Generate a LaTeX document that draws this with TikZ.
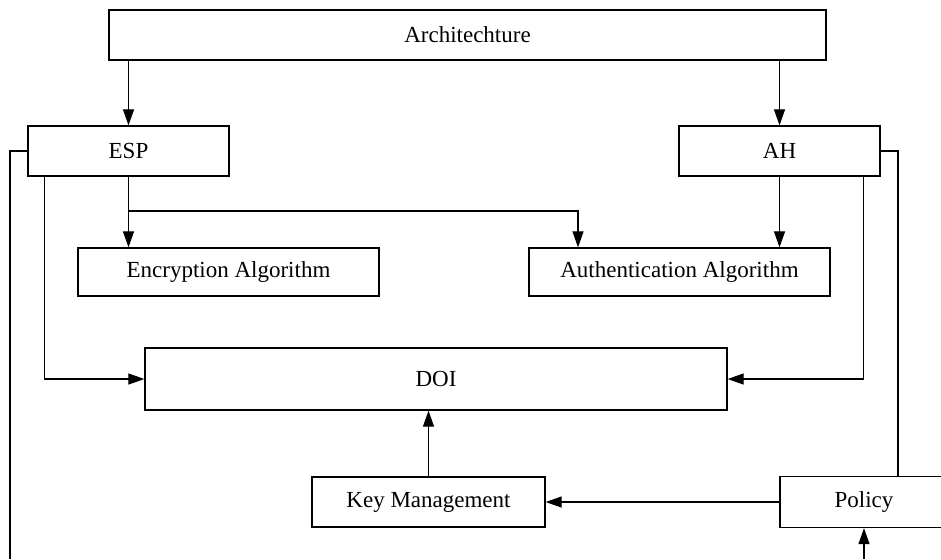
\documentclass[tikz,border=0pt]{standalone}
\usepackage{fontspec}
\setmainfont{Liberation Serif}
\usetikzlibrary{arrows.meta,positioning,calc}

\begin{document}
\begin{tikzpicture}[
    x=0.5pt, y=-0.5pt,
    >={Triangle[length=8pt,width=5.5pt]},
    box/.style={rectangle, draw, line width=0.65pt, inner sep=0pt,
                align=center, font=\fontsize{11.5}{13}\selectfont},
    arr/.style={->, line width=0.6pt},
    wire/.style={line width=0.6pt}
  ]
  \useasboundingbox (0,0) rectangle (941,559);

  % top level
  \node[box, minimum width=358.5pt, minimum height=25pt] (arch) at (467.5,35) {Architechture};
  \node[box, minimum width=100.5pt, minimum height=25pt] (esp) at (128.5,151) {ESP};
  \node[box, minimum width=100.5pt, minimum height=25pt] (ah) at (779.5,151) {AH};

  % algorithms
  \node[box, minimum width=150.5pt, minimum height=24pt] (enc) at (228.5,272) {Encryption Algorithm};
  \node[box, minimum width=150.5pt, minimum height=24pt] (auth) at (679.5,272) {Authentication Algorithm};

  % DOI and below
  \node[box, minimum width=291pt, minimum height=31pt] (doi) at (436,379) {DOI};
  \node[box, minimum width=116.5pt, minimum height=25pt] (keymgmt) at (428.5,502) {Key Management};
  \node[box, minimum width=84pt, minimum height=25.5pt] (policy) at (864,502) {Policy};

  \coordinate (split) at (128.5,211);
  \coordinate (espend) at (10,559);
  \coordinate (polin) at (864,559);

  \draw[arr] (arch.south -| esp) -- (esp.north);
  \draw[arr] (arch.south -| ah) -- (ah.north);

  \draw[arr] (esp.south) -- (esp.south |- enc.north);
  \draw[arr] (split) -| ($(auth.north)+(-101.5,0)$);
  \draw[arr] (ah.south) -- (ah.south |- auth.north);

  \draw[arr] ($(esp.south west)+(17,0)$) |- (doi.west);
  \draw[arr] ($(ah.south east)+(-17,0)$) |- (doi.east);

  \draw[wire] (esp.west) -| (espend);
  \draw[wire] (ah.east) -| ($(policy.north)+(34,0)$);

  \draw[arr] (keymgmt.north) -- (keymgmt.north |- doi.south);
  \draw[arr] (policy.west) -- (keymgmt.east);
  \draw[arr] (polin) -- (policy.south);
\end{tikzpicture}
\end{document}
